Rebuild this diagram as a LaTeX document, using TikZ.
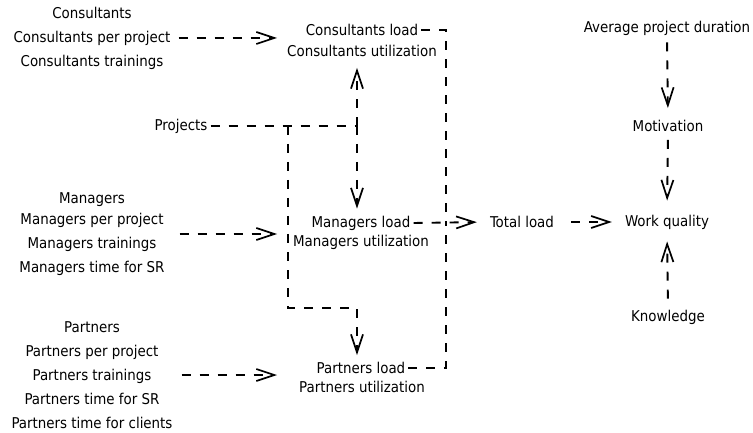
\documentclass[tikz,border=0pt]{standalone}
\usepackage{fontspec}
\setmainfont{DejaVu Sans Condensed}
\usetikzlibrary{arrows.meta}
\begin{document}
\begin{tikzpicture}[x=1pt,y=-1pt,
  lbl/.style={inner sep=3pt, font=\fontsize{14.9}{24}\selectfont, align=center},
  flow/.style={line width=1.9pt, dash pattern=on 9pt off 9pt},
  arr/.style={flow, -{Straight Barb[length=18pt,width=12pt,line width=1.7pt]}},
]
\useasboundingbox (0,0) rectangle (753,433);

% input groups
\node[lbl] (cons) at (92,38) {Consultants\\Consultants per project\\Consultants trainings};
\node[lbl] (mgr) at (92,234) {Managers\\[-3pt]Managers per project\\Managers trainings\\Managers time for SR};
\node[lbl] (part) at (92,375) {Partners\\Partners per project\\Partners trainings\\Partners time for SR\\Partners time for clients};
\node[lbl] (proj) at (181,126) {Projects};

% loads
\node[lbl] (cl) at (362,30) {Consultants load};
\node[lbl] (cu) at (362,51) {Consultants utilization};
\node[lbl] (ml) at (361,223) {Managers load};
\node[lbl] (mu) at (361,242) {Managers utilization};
\node[lbl] (pl) at (361,368) {Partners load};
\node[lbl] (pu) at (362,387) {Partners utilization};

% outputs
\node[lbl] (tl) at (522,222) {Total load};
\node[lbl] (wq) at (667,222) {Work quality};
\node[lbl] (apd) at (667,28) {Average project duration};
\node[lbl] (mot) at (668,126) {Motivation};
\node[lbl] (kn) at (668,317) {Knowledge};

% routing points
\coordinate (inx) at (277,0);
\coordinate (bus) at (446,0);
\coordinate (j1) at (357,126);
\coordinate (j2) at (288,126);
\coordinate (j3) at (288,308);
\coordinate (j4) at (357,308);

% group inputs
\draw[arr] ([xshift=5pt]cons.east) -- (inx |- cons.east);
\draw[arr] ([xshift=12pt]mgr.east) -- (inx |- mgr.east);
\draw[arr] ([xshift=6pt]part.east) -- (inx |- part.east);

% projects
\draw[flow] (proj.east) -- (j1);
\draw[arr, shorten >=8pt] (j1) -- (cu.south -| j1);
\draw[arr, shorten >=4pt] (j1) -- (ml.north -| j1);
\draw[arr, shorten >=4pt] (j2) -- (j3) -- (j4) -- (pl.north -| j4);

% loads to total
\draw[flow] (cl.east) -| (bus |- ml.east);
\draw[flow] (pl.east) -| (bus |- ml.east);
\draw[arr, shorten >=10pt] (ml.east) -- (tl.west);

% work quality
\draw[arr, shorten <=14pt, shorten >=10pt] (tl.east) -- (wq.west);
\draw[arr, shorten <=4pt, shorten >=9pt] (apd.south) -- (mot.north);
\draw[arr, shorten <=5pt, shorten >=11pt] (mot.south) -- (wq.north);
\draw[arr, shorten <=8pt, shorten >=9pt] (kn.north) -- (wq.south);
\end{tikzpicture}
\end{document}
